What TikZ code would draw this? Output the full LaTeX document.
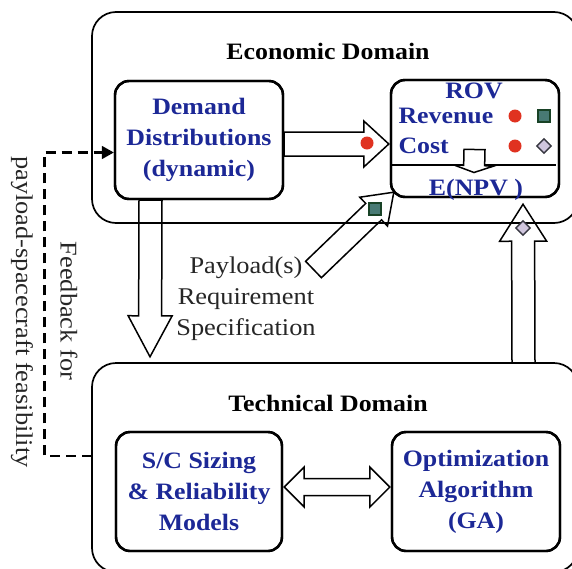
\documentclass[tikz,border=0pt]{standalone}
\usepackage{fontspec}
\setmainfont[FakeStretch=1.1]{Liberation Serif}
\usetikzlibrary{calc,arrows.meta,shapes.geometric}

\definecolor{txtblue}{RGB}{28,40,150}
\definecolor{dotred}{RGB}{224,50,32}
\definecolor{sqfill}{RGB}{72,122,116}
\definecolor{sqline}{RGB}{24,66,38}
\definecolor{dmfill}{RGB}{208,198,222}
\definecolor{dmline}{RGB}{55,55,65}

% hollow block arrow from #1 (tail) to #2 (tip):
% #3 half shaft width, #4 half head width, #5 head length
\newcommand\blockarrow[5]{%
  \coordinate (ba-base) at ($(#2)!#5!(#1)$);
  \draw[hollowarrow]
    ($(#1)!#3!90:(#2)$) -- ($(ba-base)!#3!90:(#2)$) -- ($(ba-base)!#4!90:(#2)$)
    -- (#2)
    -- ($(ba-base)!#4!-90:(#2)$) -- ($(ba-base)!#3!-90:(#2)$) -- ($(#1)!#3!-90:(#2)$)
    -- cycle;
}
% hollow double-headed block arrow between #1 and #2
\newcommand\dblarrow[5]{%
  \coordinate (da-a) at ($(#1)!#5!(#2)$);
  \coordinate (da-b) at ($(#2)!#5!(#1)$);
  \draw[hollowarrow]
    (#1) -- ($(da-a)!#4!90:(#2)$) -- ($(da-a)!#3!90:(#2)$)
    -- ($(da-b)!#3!-90:(#1)$) -- ($(da-b)!#4!-90:(#1)$)
    -- (#2)
    -- ($(da-b)!#4!90:(#1)$) -- ($(da-b)!#3!90:(#1)$)
    -- ($(da-a)!#3!-90:(#2)$) -- ($(da-a)!#4!-90:(#2)$)
    -- cycle;
}

\begin{document}
\begin{tikzpicture}[x=1pt,y=-1pt,
  domainbox/.style={draw, line width=1.7pt, rounded corners=24pt, inner sep=0pt,
    minimum width=486pt, minimum height=210pt},
  inbox/.style={draw, line width=2.4pt, rounded corners=14pt, inner sep=0pt,
    minimum width=168pt, minimum height=118pt},
  bluetxt/.style={text=txtblue, font=\fontsize{23.5}{31}\selectfont\bfseries, align=center},
  title/.style={font=\fontsize{23.5}{28}\selectfont\bfseries},
  plaintxt/.style={font=\fontsize{24}{31}\selectfont, align=center, text=black!85},
  hollowarrow/.style={draw, fill=white, line width=1.5pt, line join=miter},
  feedback/.style={line width=2.4pt, dash pattern=on 10pt off 6pt},
  reddot/.style={circle, fill=dotred, minimum size=13pt, inner sep=0pt},
  greensq/.style={draw=sqline, fill=sqfill, line width=1.4pt, minimum size=12pt, inner sep=0pt},
  lilacdm/.style={diamond, draw=dmline, fill=dmfill, line width=1.4pt, minimum size=15pt, inner sep=0pt}
]
\useasboundingbox (0,0) rectangle (572,568);
\clip (0,0) rectangle (572,568);

% domain containers (placed first so their centres are known)
\path (335,117.5) node[minimum width=486pt, minimum height=211pt] (eco) {};
\path (335,467.5) node[minimum width=486pt, minimum height=209pt] (tech) {};

% inner model boxes
\node[inbox] (demand) at (199,140) {};
\node[inbox, minimum height=117pt] (rov) at (475,138.5) {};
\node[inbox, minimum width=166pt, minimum height=119pt] (sc) at (199,491.5) {};
\node[inbox, minimum height=119pt] (opt) at (476,491.5) {};

% payload requirement label
\node[plaintxt] (payload) at (246,299) {Payload(s)\\Requirement\\Specification};

% connector end points
\coordinate (dr-tail) at ($(demand.east)+(0,4)$);
\coordinate (dr-tip)  at ($(rov.west)+(-1,5.5)$);
\coordinate (dn-tail) at ($(demand.south)+(-48.5,0)$);
\coordinate (dn-tip)  at ($(tech.north)+(-185,-6)$);
\coordinate (pl-tail) at (313.5,269.5);
\coordinate (pl-tip)  at ($(rov.south west)+(4,-6)$);
\coordinate (up-tail) at ($(tech.north)+(188.5,0)$);
\coordinate (up-tip)  at ($(rov.south)+(48,6)$);
\coordinate (in-tail) at ($(rov.center)+(-0.5,11)$);
\coordinate (in-tip)  at ($(rov.center)+(-1,34)$);
\coordinate (sc-end)  at ($(sc.east)+(1,-4.5)$);
\coordinate (op-end)  at ($(opt.west)+(-1,-4.5)$);

% block arrows
\blockarrow{dr-tail}{dr-tip}{12pt}{23pt}{25pt}
\blockarrow{dn-tail}{dn-tip}{11.5pt}{22pt}{41pt}
\blockarrow{pl-tail}{pl-tip}{11.4pt}{20pt}{28pt}
\blockarrow{up-tail}{up-tip}{11.5pt}{23.5pt}{37pt}
\dblarrow{sc-end}{op-end}{8.5pt}{20pt}{20pt}

% domain borders
\node[domainbox, minimum height=211pt] at (eco) {};
\node[domainbox, minimum height=209pt] at (tech) {};
\node[title] (ecotitle) at (328,51) {Economic Domain};
\node[title] (techtitle) at (328,403) {Technical Domain};

% redraw inner boxes on top
\node[inbox, bluetxt] at (demand) {Demand\\Distributions\\(dynamic)};
\node[inbox, minimum height=117pt] at (rov) {};
\node[inbox, bluetxt, minimum width=166pt, minimum height=119pt] at (sc) {S/C Sizing\\\& Reliability\\Models};
\node[inbox, bluetxt, minimum height=119pt] at (opt) {Optimization\\Algorithm\\(GA)};

% ROV contents
\draw[line width=1.5pt] ($(rov.west)+(2,26.5)$) coordinate (sep-l) -- ($(rov.east)+(-4,26.5)$) coordinate (sep-r);
\blockarrow{in-tail}{in-tip}{10.5pt}{20pt}{7pt}
\node[bluetxt] (rovt) at (474,91) {ROV};
\node[bluetxt, anchor=west] (rev) at (395,116) {Revenue};
\node[bluetxt, anchor=west] (cost) at (395,146) {Cost};
\node[bluetxt] (npv) at (476,190) {E(NPV )};

% markers
\node[reddot] (d1) at (367,143) {};
\node[reddot] (d2) at (515,116) {};
\node[reddot] (d3) at (515,146) {};
\node[greensq] (s1) at (544,116) {};
\node[greensq] (s2) at (375,209) {};
\node[lilacdm] (m1) at (544,146) {};
\node[lilacdm] (m2) at (523,228) {};

% feedback loop
\coordinate (fb-start) at ($(tech.west)+(0,-11.5)$);
\coordinate (fb-bot) at (44.5,456);
\coordinate (fb-top) at (44.5,152.5);
\coordinate (fb-end) at ($(demand.west)+(0,12.5)$);
\draw[feedback] (fb-start) -- (fb-bot) -- (fb-top) -- ($(fb-end)+(-12,0)$);
\draw[-{Triangle[length=12pt,width=13pt]}, line width=1.8pt] ($(fb-end)+(-14,0)$) -- (fb-end);
\node[plaintxt, rotate=-90] (fbt1) at (69,311) {Feedback for};
\node[plaintxt, rotate=-90] (fbt2) at (22,312) {payload-spacecraft feasibility};
\end{tikzpicture}
\end{document}
